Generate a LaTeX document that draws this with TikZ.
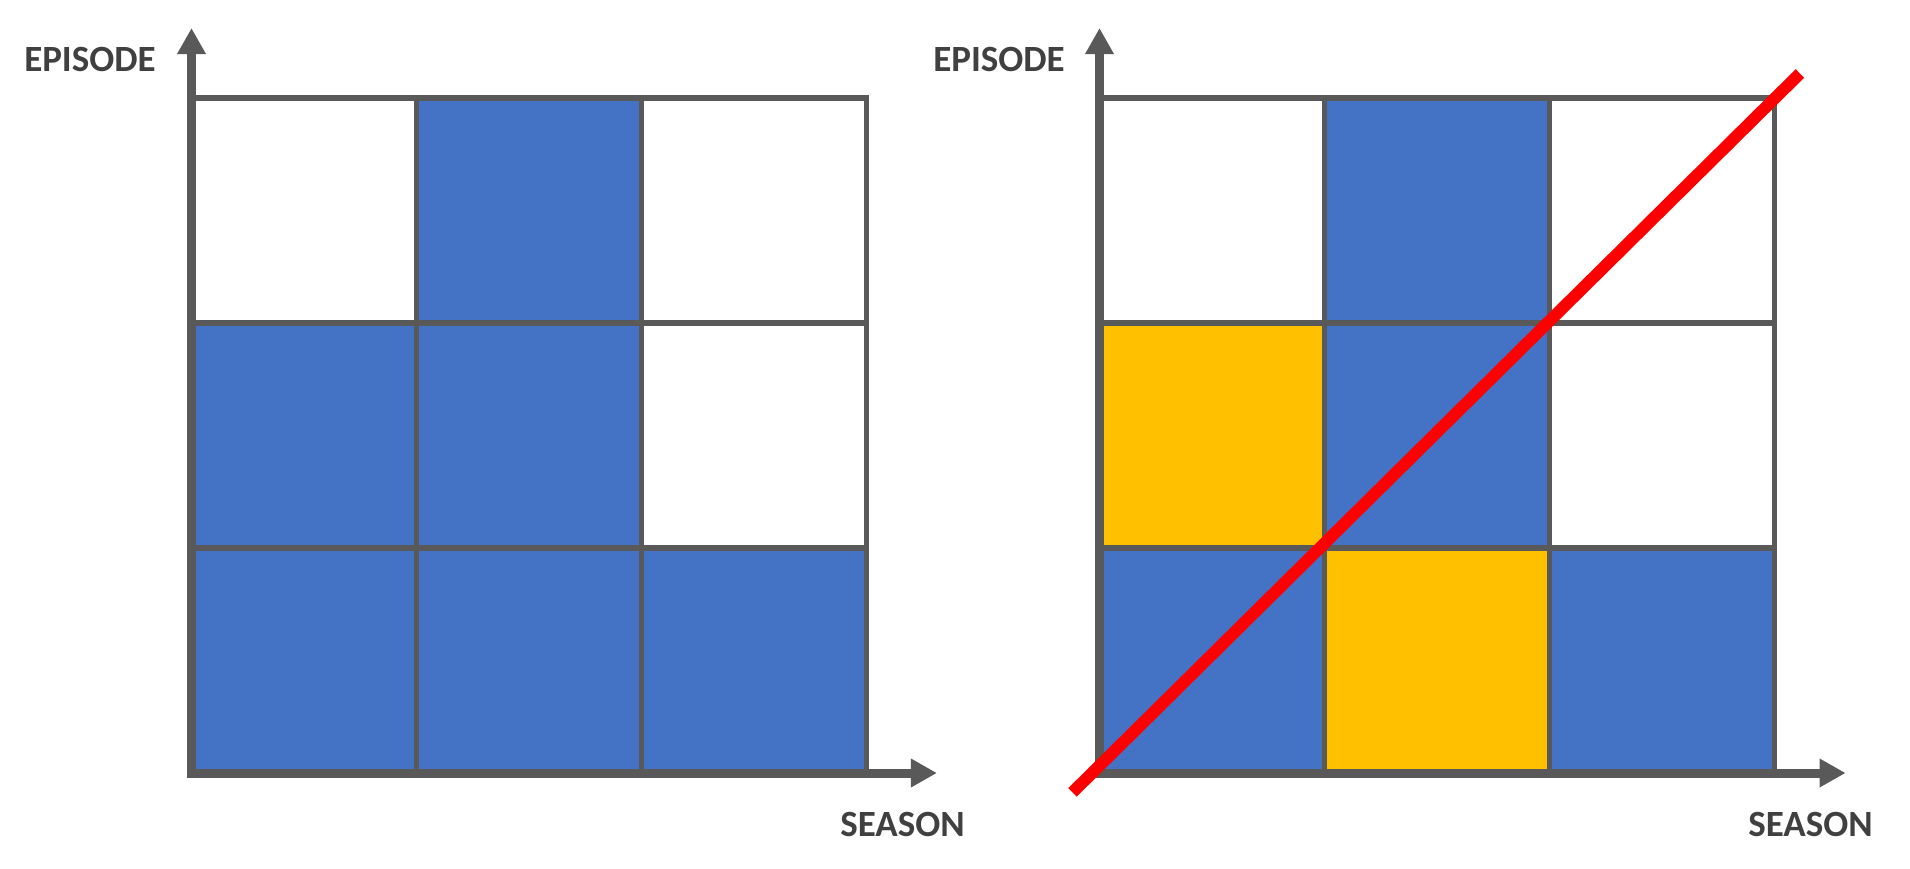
\documentclass[tikz,border=0pt]{standalone}
\usepackage{fontspec}
\setmainfont{Carlito}
\usetikzlibrary{arrows.meta}
\definecolor{cblue}{HTML}{4472C4}
\definecolor{corange}{HTML}{FFC000}
\definecolor{cgray}{HTML}{595959}
\definecolor{ctext}{HTML}{404040}
\definecolor{cred}{HTML}{FF0000}
\tikzset{
  gridline/.style={draw=cgray, line width=5.5pt, line cap=rect},
  axisline/.style={draw=cgray, line width=9pt, line cap=rect, -{Triangle[length=26pt,width=27pt]}},
  lbl/.style={inner sep=0pt, text=ctext, font=\fontsize{37}{44}\selectfont\bfseries},
  redline/.style={draw=cred, line width=12pt}
}
\begin{document}
\begin{tikzpicture}[x=1pt,y=-1pt]
\useasboundingbox (0,0) rectangle (1910,868);
% left chart
\begin{scope}[shift={(191.5pt,-773pt)}, x=225pt, y=225pt]
  \coordinate (LO) at (0,0);
  \coordinate (LX) at (3.313,0);
  \coordinate (LY) at (0,3.311);
  \fill[cblue] (1,2) rectangle (2,3);
  \fill[cblue] (0,1) rectangle (2,2);
  \fill[cblue] (0,0) rectangle (3,1);
  \draw[gridline, step=225pt] (0,0) grid (3,3);
  \draw[axisline] (LO) -- (LY);
  \draw[axisline] (LO) -- (LX);
\end{scope}
% right chart
\begin{scope}[shift={(1099.5pt,-773pt)}, x=225pt, y=225pt]
  \coordinate (RO) at (0,0);
  \coordinate (RX) at (3.316,0);
  \coordinate (RY) at (0,3.311);
  \coordinate (RA) at (-0.12,-0.086);
  \coordinate (RB) at (3.113,3.109);
  \fill[cblue] (1,2) rectangle (2,3);
  \fill[corange] (0,1) rectangle (1,2);
  \fill[cblue] (1,1) rectangle (2,2);
  \fill[cblue] (0,0) rectangle (1,1);
  \fill[corange] (1,0) rectangle (2,1);
  \fill[cblue] (2,0) rectangle (3,1);
  \draw[gridline, step=225pt] (0,0) grid (3,3);
  \draw[axisline] (RO) -- (RY);
  \draw[axisline] (RO) -- (RX);
  \draw[redline] (RA) -- (RB);
\end{scope}
\node[lbl] (ep1) at (90,59.5) {EPISODE};
\node[lbl] (se1) at (902.5,824) {SEASON};
\node[lbl] (ep2) at (999,59.5) {EPISODE};
\node[lbl] (se2) at (1810.5,824) {SEASON};
\end{tikzpicture}
\end{document}
